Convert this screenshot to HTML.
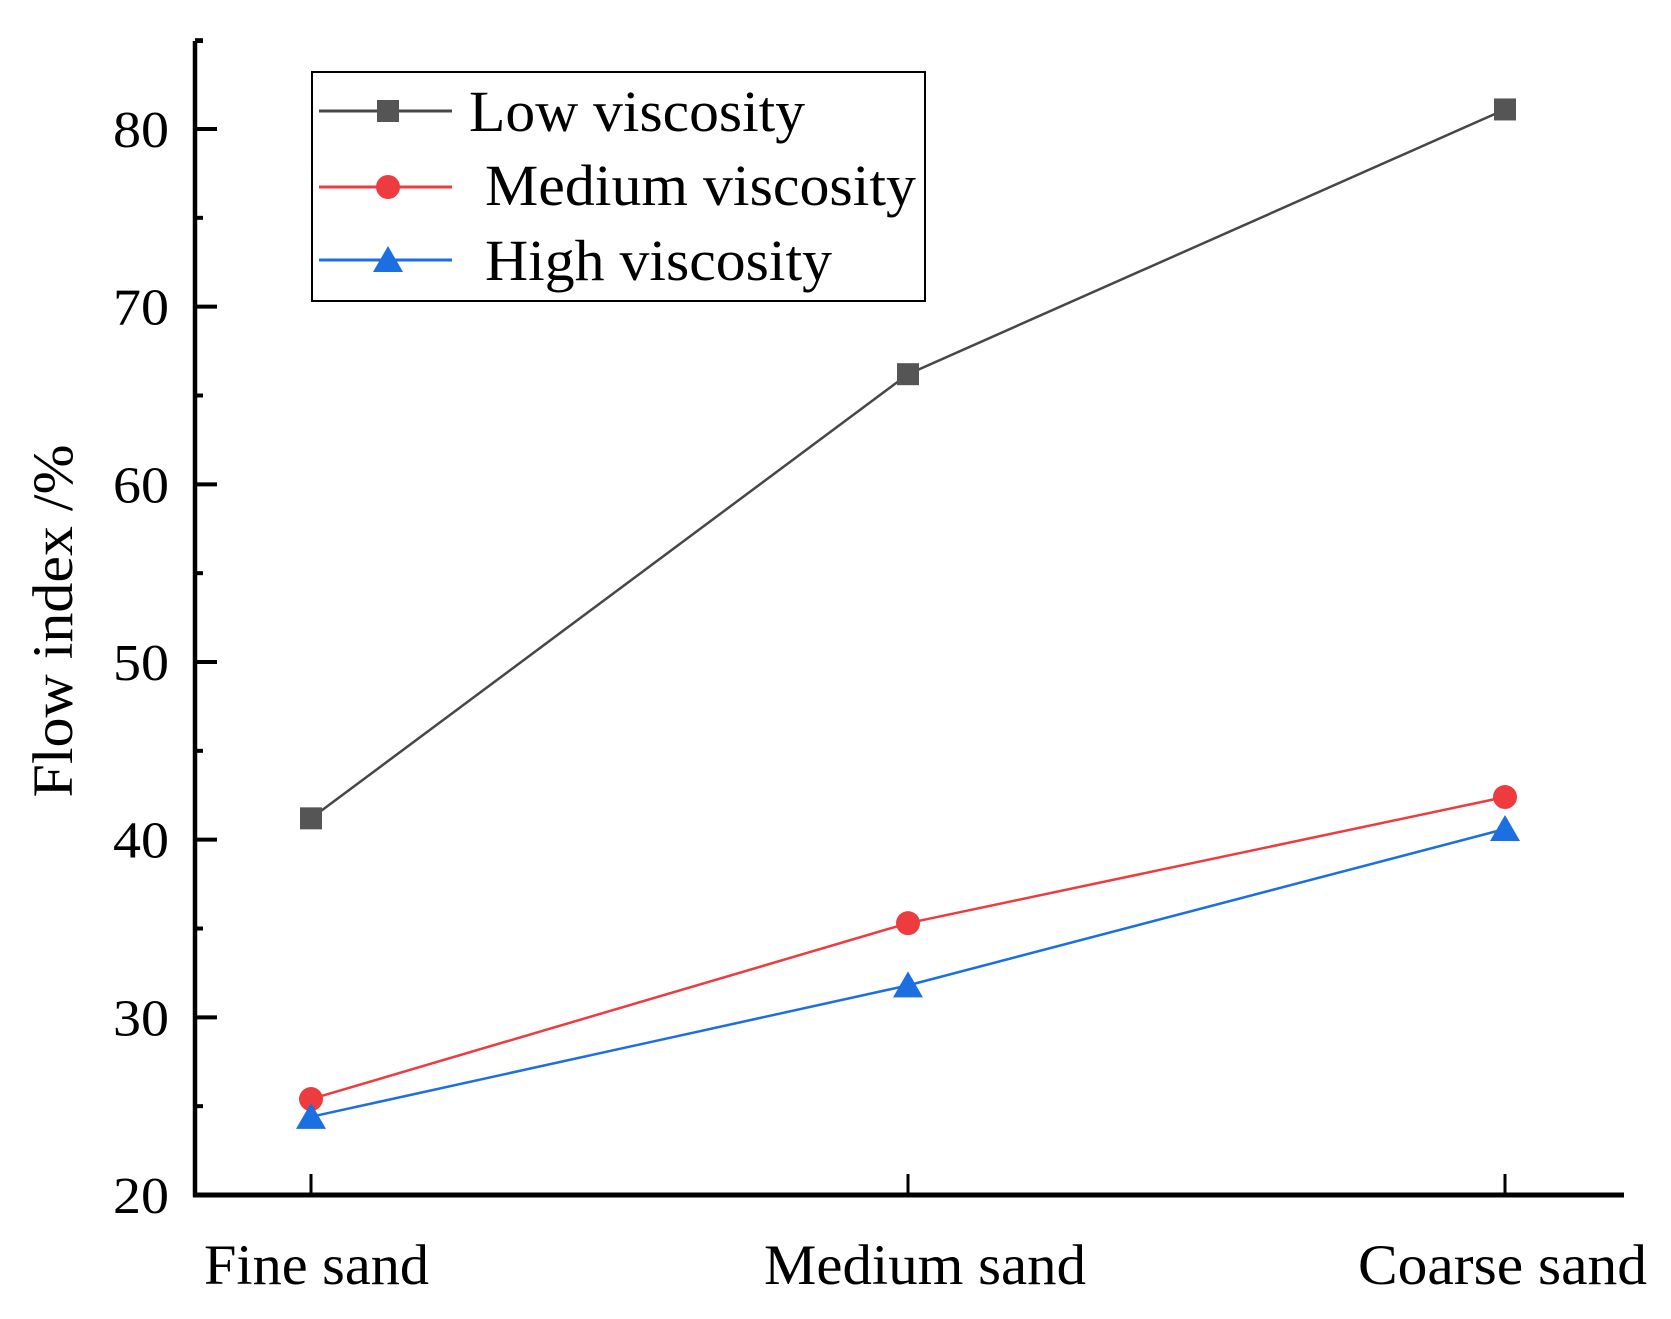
<!DOCTYPE html>
<html><head><meta charset="utf-8"><style>
html,body{margin:0;padding:0;background:#fff;}
svg{display:block;font-family:"Liberation Serif",serif;}
</style></head><body>
<svg id="chart" width="1671" height="1319" viewBox="0 0 1671 1319">
<g id="axes"></g><g id="series"></g><g id="legend"></g>
</svg>
<script>
const categories = ["Fine sand","Medium sand","Coarse sand"];
const seriesNames = ["Low viscosity","Medium viscosity","High viscosity"];
const lowValues = [41.2, 66.2, 81.1];
const mediumValues = [25.4, 35.3, 42.4];
const highValues = [24.4, 31.8, 40.6];
const yTicks = [20,30,40,50,60,70,80];

const NS="http://www.w3.org/2000/svg";
const X0=195, Y0=1195, XR=1624, YT=41;
function yScale(v){return 1195-(v-20)*(1066/60);}
function xScale(i){return 311+i*597;}
function mk(tag,attrs,parent){const e=document.createElementNS(NS,tag);for(const k in attrs)e.setAttribute(k,attrs[k]);parent.appendChild(e);return e;}
const axes=document.getElementById('axes');
const ya=mk('line',{x1:X0,y1:YT,x2:X0,y2:Y0+2,stroke:'#000','stroke-width':4.5},axes);


const xa=mk('line',{x1:X0-2,y1:Y0,x2:XR,y2:Y0,stroke:'#000','stroke-width':5},axes);


mk('line',{x1:X0,y1:YT,x2:X0+8,y2:YT,stroke:'#000','stroke-width':4},axes);
yTicks.forEach(v=>{
  const y=yScale(v);
  mk('line',{x1:X0,y1:y,x2:X0+22,y2:y,stroke:'#000','stroke-width':4},axes);
  const t=mk('text',{x:113,y:y+18,'font-size':52,textLength:56,lengthAdjust:'spacingAndGlyphs',fill:'#000'},axes);
  t.textContent=v;
  
  
  if(v<80){const ym=yScale(v+5);mk('line',{x1:X0,y1:ym,x2:X0+8,y2:ym,stroke:'#000','stroke-width':4},axes);}
});
mk('line',{x1:X0,y1:yScale(85),x2:X0+8,y2:yScale(85),stroke:'#000','stroke-width':4},axes);
const xlStart=[204,764,1358], xlLen=[225,322,289];
categories.forEach((c,i)=>{
  const x=xScale(i);
  mk('line',{x1:x,y1:Y0,x2:x,y2:Y0-21,stroke:'#000','stroke-width':3},axes);
  const t=mk('text',{x:xlStart[i],y:1284,'font-size':57,textLength:xlLen[i],lengthAdjust:'spacingAndGlyphs',fill:'#000'},axes);
  t.textContent=c;
  
  
});
const yt=mk('text',{x:0,y:0,transform:'translate(72,621) rotate(-90)','text-anchor':'middle','font-size':57,textLength:353,lengthAdjust:'spacingAndGlyphs',fill:'#000'},axes);
yt.textContent='Flow index /%';



const colors=['#474747','#ee3b3f','#1c6fe0'];
const markColors=['#555555','#ee3b3f','#1c6fe0'];
const allVals=[lowValues,mediumValues,highValues];
const sg=document.getElementById('series');
function marker(type,x,y,color,parent){
  if(type===0) return mk('rect',{x:x-11,y:y-11,width:22,height:22,fill:color},parent);
  if(type===1) return mk('circle',{cx:x,cy:y,r:12,fill:color},parent);
  return mk('polygon',{points:`${x},${y-14} ${x-15},${y+12} ${x+15},${y+12}`,fill:color},parent);
}
allVals.forEach((vals,s)=>{
  const g=mk('g',{},sg);
  
  
  const pts=vals.map((v,i)=>xScale(i)+','+yScale(v)).join(' ');
  mk('polyline',{points:pts,fill:'none',stroke:colors[s],'stroke-width':2.5},g);
  vals.forEach((v,i)=>{
    const m=marker(s,xScale(i),yScale(v),markColors[s],g);
    
    
  });
});
const lg=document.getElementById('legend');
const box=mk('rect',{x:312,y:72,width:613,height:229,fill:'#fff',stroke:'#000','stroke-width':2},lg);


const ly=[111,187,260], lx=[469,485,485], by=[131,205,280], ll=[336,431,347];
seriesNames.forEach((n,s)=>{
  const g=mk('g',{},lg);
  
  
  mk('line',{x1:319,y1:ly[s],x2:452,y2:ly[s],stroke:colors[s],'stroke-width':3},g);
  marker(s,388,ly[s],markColors[s],g);
  const t=mk('text',{x:lx[s],y:by[s],'font-size':58,textLength:ll[s],lengthAdjust:'spacingAndGlyphs',fill:'#000'},g);
  t.textContent=n;
});
</script>
</body></html>
